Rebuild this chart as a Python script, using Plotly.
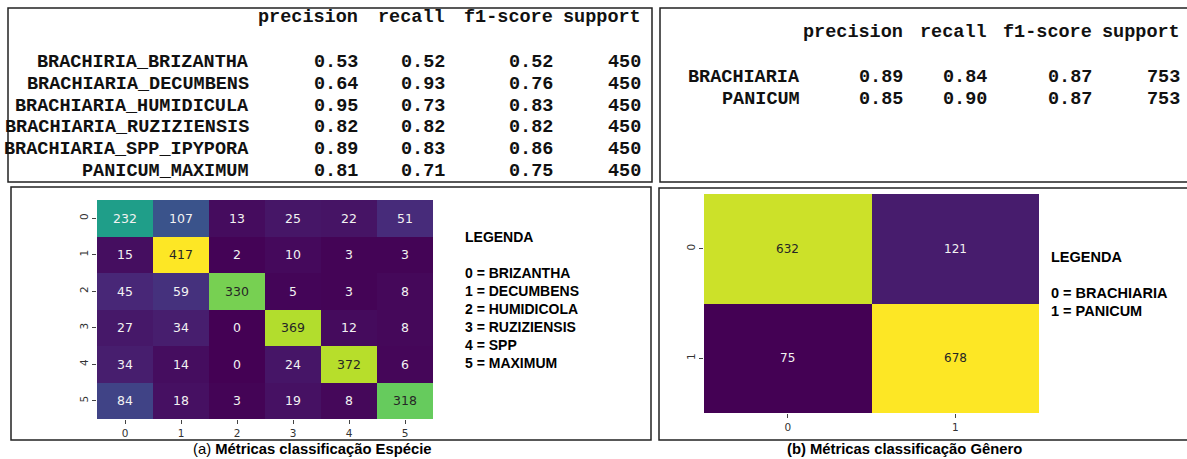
import plotly.graph_objects as go
from plotly.colors import sample_colorscale, unlabel_rgb

W, H = 1187, 459

# ---- classification report: species ----
species_classes = [
    "BRACHIRIA_BRIZANTHA",
    "BRACHIARIA_DECUMBENS",
    "BRACHIARIA_HUMIDICULA",
    "BRACHIARIA_RUZIZIENSIS",
    "BRACHIARIA_SPP_IPYPORA",
    "PANICUM_MAXIMUM",
]
species_precision = [0.53, 0.64, 0.95, 0.82, 0.89, 0.81]
species_recall = [0.52, 0.93, 0.73, 0.82, 0.83, 0.71]
species_f1 = [0.52, 0.76, 0.83, 0.82, 0.86, 0.75]
species_support = [450, 450, 450, 450, 450, 450]

# ---- classification report: genus ----
genus_classes = ["BRACHIARIA", "PANICUM"]
genus_precision = [0.89, 0.85]
genus_recall = [0.84, 0.90]
genus_f1 = [0.87, 0.87]
genus_support = [753, 753]

report_headers = ["precision", "recall", "f1-score", "support"]

# ---- confusion matrices ----
species_cm = [
    [232, 107, 13, 25, 22, 51],
    [15, 417, 2, 10, 3, 3],
    [45, 59, 330, 5, 3, 8],
    [27, 34, 0, 369, 12, 8],
    [34, 14, 0, 24, 372, 6],
    [84, 18, 3, 19, 8, 318],
]
genus_cm = [
    [632, 121],
    [75, 678],
]
species_ticks = ["0", "1", "2", "3", "4", "5"]
genus_ticks = ["0", "1"]

species_legend = [
    "0 = BRIZANTHA",
    "1 = DECUMBENS",
    "2 = HUMIDICOLA",
    "3 = RUZIZIENSIS",
    "4 = SPP",
    "5 = MAXIMUM",
]
genus_legend = ["0 = BRACHIARIA", "1 = PANICUM"]

caption_a = ("(a)", "Métricas classificação Espécie")
caption_b = ("(b)", "Métricas classificação Gênero")


def px(x):
    return x / W


def py(y):
    return 1 - y / H


MONO = "Liberation Mono, Courier New, monospace"
SANS = "Liberation Sans, Arial, sans-serif"
DV = "DejaVu Sans, sans-serif"

fig = go.Figure()
annotations = []
shapes = []

# panel frames
for x0, y0, x1, y1 in [(8, 8, 652, 182), (660, 8, 1195, 182),
                       (11, 187, 651, 440), (659, 188, 1195, 440)]:
    shapes.append(dict(type="rect", xref="paper", yref="paper",
                       x0=px(x0), x1=px(x1), y0=py(y1), y1=py(y0),
                       line=dict(color="#222", width=1.5)))


def text(x, y, s, family, size, anchor="left", weight="normal", color="#111", **kw):
    annotations.append(dict(x=px(x), y=py(y), xref="paper", yref="paper",
                            text=s, showarrow=False, xanchor=anchor, yanchor="middle",
                            font=dict(family=family, size=size, color=color, weight=weight), **kw))


def report(label_right, col_rights, header_y, row_y0, classes, cols):
    for h, xr in zip(report_headers, col_rights):
        text(xr, header_y, h, MONO, 18.5, "right", "bold")
    for i, name in enumerate(classes):
        yy = row_y0 + i * 22
        text(label_right, yy, name, MONO, 18.5, "right", "bold")
        for c, (vals, xr) in enumerate(zip(cols, col_rights)):
            s = f"{vals[i]}" if c == 3 else f"{vals[i]:.2f}"
            text(xr, yy, s, MONO, 18.5, "right", "bold")


report(251, [360, 447, 555, 643], 18, 62, species_classes,
       [species_precision, species_recall, species_f1, species_support])
report(802, [905, 989, 1094, 1182], 33, 77, genus_classes,
       [genus_precision, genus_recall, genus_f1, genus_support])


def luminance(rgb_str):
    r, g, b = [v / 255 for v in unlabel_rgb(rgb_str)]
    lin = [c / 12.92 if c <= 0.03928 else ((c + 0.055) / 1.055) ** 2.4 for c in (r, g, b)]
    return 0.2126 * lin[0] + 0.7152 * lin[1] + 0.0722 * lin[2]


def confusion(cm, ticks, xa, ya, xdom, ydom, cell_font):
    n = len(cm)
    flat = [v for row in cm for v in row]
    zmin, zmax = min(flat), max(flat)
    fig.add_trace(go.Heatmap(z=cm, x=list(range(n)), y=list(range(n)),
                             colorscale="Viridis", zmin=zmin, zmax=zmax,
                             showscale=False, xaxis=xa, yaxis=ya, hoverinfo="z"))
    for i, row in enumerate(cm):
        for j, v in enumerate(row):
            col = sample_colorscale("Viridis", [(v - zmin) / (zmax - zmin)])[0]
            tc = "#262626" if luminance(col) > 0.408 else "#f2f2f2"
            annotations.append(dict(x=j, y=i, xref=xa, yref=ya, text=str(v),
                                    showarrow=False,
                                    font=dict(family=DV, size=cell_font, color=tc)))
    axis_common = dict(showgrid=False, zeroline=False, showline=False, ticks="outside",
                       ticklen=4, tickwidth=1, tickcolor="#444",
                       tickfont=dict(family=DV, size=10.5, color="#333"),
                       tickvals=list(range(n)), ticktext=ticks)
    xname = "xaxis" if xa == "x" else "xaxis" + xa[1:]
    yname = "yaxis" if ya == "y" else "yaxis" + ya[1:]
    fig.update_layout(**{
        xname: dict(domain=[px(xdom[0]), px(xdom[1])], range=[-0.5, n - 0.5],
                    anchor=ya, **axis_common),
        yname: dict(domain=[py(ydom[1]), py(ydom[0])], range=[n - 0.5, -0.5],
                    anchor=xa, tickangle=-90, **axis_common),
    })


confusion(species_cm, species_ticks, "x", "y", (97, 433), (200, 419), 12.5)
confusion(genus_cm, genus_ticks, "x2", "y2", (704, 1039), (194, 413), 12)

# legends
text(463, 237, "LEGENDA", SANS, 14, weight="bold", color="#000")
for k, s in enumerate(species_legend):
    text(463, 273 + k * 18, s, SANS, 14, weight="bold", color="#000")
text(1049, 257, "LEGENDA", SANS, 14.5, weight="bold", color="#000")
for k, s in enumerate(genus_legend):
    text(1049, 293 + k * 17.5, s, SANS, 14.5, weight="bold", color="#000")

# captions
text(312, 449, f"{caption_a[0]} <b>{caption_a[1]}</b>", SANS, 14.8, "center", color="#000")
text(904, 449, f"<b>{caption_b[0]} {caption_b[1]}</b>", SANS, 14.8, "center", color="#000")

fig.update_layout(width=W, height=H, margin=dict(l=0, r=0, t=0, b=0),
                  paper_bgcolor="white", plot_bgcolor="white",
                  annotations=annotations, shapes=shapes, showlegend=False)

fig.write_html("out.html")
